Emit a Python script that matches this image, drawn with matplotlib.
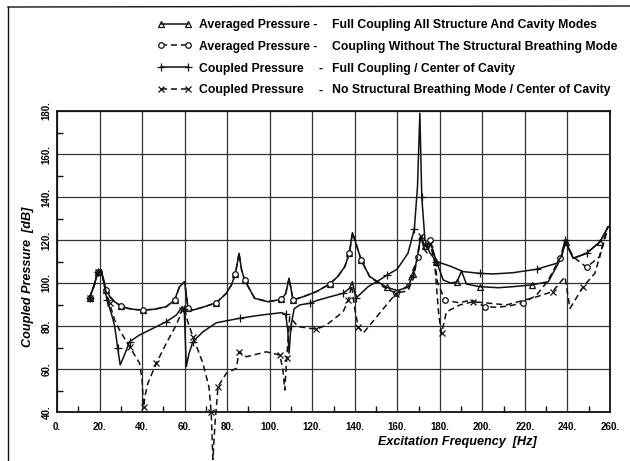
import matplotlib
matplotlib.use("Agg")
import matplotlib.pyplot as plt
from matplotlib.ticker import MultipleLocator, FuncFormatter
from matplotlib.lines import Line2D

plt.rcParams['font.family'] = ['Liberation Sans', 'DejaVu Sans']

# ---------------- data ----------------
freqA = [15.3, 16.1, 17.5, 19.2, 20.8, 22, 23.2, 25, 27.1, 30, 33.3, 36.5, 40.4, 45.9, 51.4,
         55.3, 57.6, 60.0, 61.6, 63.9, 69.4, 74.9, 79.6, 82, 83.8, 85.6, 86.8, 88.2, 92.9, 99.2,
         105.5, 107.5, 109.1, 111, 115.7, 122, 128.2, 132, 135.3, 137.5, 138.9, 140.8, 143, 147, 151,
         155, 160, 165, 167.5, 169.5, 171, 173, 175, 176.5, 178.4, 181.6, 185, 188, 190.2, 192.5,
         198.8, 207.4, 214.5, 223.1, 231, 236.5, 239.3, 242.7, 249, 255.3, 259.2]
valsA = [92.9, 95.2, 99, 105.3, 106, 101, 96.7, 93.5, 91.3, 89.3, 88.2, 87.7, 87.4, 87.8, 89,
         92.1, 98.3, 100.6, 88.2, 87.4, 89, 90.8, 95.2, 99.1, 104, 113.8, 106, 101.4, 92.9, 91.3,
         92.4, 95, 102.2, 92.1, 93.6, 96, 99.5, 103, 107.6, 114, 123.4, 117.7, 110.7, 103, 100.5,
         98, 96.5, 98, 104, 112, 122, 117, 119, 116, 110, 101.4, 100, 100.5, 105.5, 99.5,
         98.3, 97.8, 98.3, 99.1, 100.6, 110.7, 119.2, 111.5, 113.8, 119.2, 126.2]

freqB = [15.3, 16.1, 17.5, 19.2, 20.8, 22, 23.2, 25, 27.1, 30, 33.3, 36.5, 40.4, 45.9, 51.4,
         55.3, 57.6, 60.0, 61.6, 63.9, 69.4, 74.9, 79.6, 82, 83.8, 85.6, 86.8, 88.2, 92.9, 99.2,
         105.5, 107.5, 109.1, 111, 115.7, 122, 128.2, 132, 135.3, 137.5, 138.9, 140.8,
         143, 147, 153.3, 159.3, 165, 167.5, 169.5, 171, 173, 175.5, 177, 179, 182.4, 189.1,
         194.9, 201.2, 207.1, 212.9, 219.2, 225.2, 230.5, 236.5, 238.8, 242.7, 249, 255, 258.9]
valsB = [92.9, 95.2, 99, 105.3, 106, 101, 96.7, 93.5, 91.3, 89.3, 88.2, 87.7, 87.4, 87.8, 89,
         92.1, 98.3, 100.6, 88.2, 87.4, 89, 90.8, 95.2, 99.1, 104, 113.8, 106, 101.4, 92.9, 91.3,
         92.4, 95, 102.2, 92.1, 93.6, 96, 99.5, 103, 107.6, 114, 123.4, 117.7,
         110.7, 103, 98.3, 95.2, 96.4, 102, 112, 121, 115, 120, 114, 100, 92, 90.8,
         92.1, 89, 88.7, 89.4, 90.8, 94.1, 100.6, 111.5, 119.2, 112.2, 107.3, 112.2, 126.2]

freqC = [15.3, 16.1, 17.5, 19.2, 20.8, 22, 23.5, 25.5, 27.1, 28.5, 29.7, 31.5, 34.1, 38.8, 45.1,
         51.4, 56.1, 58.9, 59.8, 60.8, 62, 63.9, 68.6, 74.9, 85.9, 95.3, 105.5, 107.5, 108.5, 109.1,
         110, 111.5, 114.1, 118.8, 122, 128, 134.5, 137.5, 138.9, 140.5, 146.3, 151, 155.2, 159.9, 165,
         168, 169.5, 170.6, 171.5, 173, 175.3, 178.4, 184.7, 191, 198.8, 205, 214.5, 225.5, 235, 237.5,
         238.8, 240.5, 242.7, 249, 255.3, 259.2]
valsC = [92.9, 95.2, 99, 105.3, 106, 100, 92, 86, 80, 70, 61.9, 66, 72.7, 75.8, 78.9,
         82, 85.1, 89, 88, 61.1, 67, 72.7, 77.3, 81.5, 83.6, 85, 86.2, 85.5, 78, 67.3,
         80, 88, 89.8, 90.6, 91.8, 93.5, 95.2, 97.5, 100.6, 92.9, 98.3, 101, 103.7, 106.4, 113.8,
         125, 145, 179, 140, 120, 114, 110, 107.9, 105.3, 104.5, 104.2, 104.8, 106.4, 109.2, 113,
         120, 116, 111.5, 113.8, 119.2, 126.2]

freqD = [15.3, 16.1, 17.5, 19.2, 20.8, 22.5, 24.7, 27.1, 29.4, 34.1, 38.8, 40.0, 40.7, 41.5, 42.7,
         46.7, 51.4, 56.1, 58.9, 59.7, 61.5, 63.9, 68.6, 71.4, 72.5, 73.3, 74.3, 75.7, 79.6, 84.3,
         85.6, 89, 98.4, 104.7, 106.2, 107.1, 108, 109.4, 113.3, 122, 126.7, 134.5, 137, 138.5, 140,
         141.6, 143.9, 154.9, 159.3, 164.3, 169, 171, 172.5, 174, 175.5, 177.5, 179.5, 180.8, 183.1, 189.4,
         195.7, 211.4, 225.5, 233, 238.8, 241.2, 247.4, 252.9, 258.9]
valsD = [92.9, 95.2, 99, 105.3, 106, 98, 90.6, 82.8, 78.1, 70.4, 62.7, 55, 42.5, 48, 53.3,
         62.7, 72, 80.5, 87.4, 89, 82, 75, 62.7, 51.8, 40, 18, 35, 51.8, 58, 60.3,
         68, 65.7, 68, 66.5, 60, 50.2, 65, 84.3, 79.7, 78.5, 80.5, 86.6, 92, 99, 88,
         79.7, 76.6, 89.8, 95, 98.3, 110, 122, 116, 114, 118, 110, 85, 76.6, 86.6, 89.8,
         91.3, 89.8, 93.6, 96, 102.9, 88.2, 98.3, 104.5, 125]

legend_left = ["Averaged Pressure -", "Averaged Pressure -", "Coupled Pressure", "Coupled Pressure"]
legend_dash = ["", "", "-", "-"]
legend_right = ["Full Coupling All Structure And Cavity Modes",
                "Coupling Without The Structural Breathing Mode",
                "Full Coupling / Center of Cavity",
                "No Structural Breathing Mode / Center of Cavity"]

xticks = list(range(0, 261, 20))
yticks = list(range(40, 181, 20))
xlabel = "Excitation Frequency  [Hz]"
ylabel = "Coupled Pressure  [dB]"

# ---------------- figure ----------------
W, H = 630, 461
fig = plt.figure(figsize=(W / 100, H / 100), dpi=100)
ax = fig.add_axes([57 / W, 1 - 412 / H, (610 - 57) / W, (412 - 111) / H])

ink = '#111111'
styles = [
    dict(x=freqA, y=valsA, ls='-', marker='^', ms=4, mfc='none', every=3),
    dict(x=freqB, y=valsB, ls=(0, (4, 2.5)), marker='o', ms=4, mfc='white', every=3),
    dict(x=freqC, y=valsC, ls='-', marker='+', ms=6, mfc='none', every=3),
    dict(x=freqD, y=valsD, ls=(0, (4, 2.5)), marker='x', ms=4.5, mfc='none', every=3),
]
handles = []
for s in styles:
    ln, = ax.plot(s['x'], s['y'], ls=s['ls'], color=ink, lw=1.1, marker=s['marker'],
                  ms=s['ms'], mfc=s['mfc'], mec=ink, mew=0.9, markevery=s['every'],
                  clip_on=False, zorder=3)
    handles.append(ln)

ax.set_xlim(0, 260)
ax.set_ylim(40, 180)
ax.set_xticks(xticks)
ax.set_yticks(yticks)
ax.xaxis.set_minor_locator(MultipleLocator(10))
ax.yaxis.set_minor_locator(MultipleLocator(10))
fmt = FuncFormatter(lambda v, _: f"{v:.0f}.")
ax.xaxis.set_major_formatter(fmt)
ax.yaxis.set_major_formatter(fmt)
ax.tick_params(axis='x', which='major', direction='in', length=0, pad=7, labelsize=7)
ax.tick_params(axis='y', which='major', direction='in', length=0, pad=4, labelsize=7)
ax.tick_params(which='minor', direction='in', length=4, width=1.0, color=ink)
for lab in ax.get_xticklabels():
    lab.set_fontweight('bold')
for lab in ax.get_yticklabels():
    lab.set_fontweight('bold')
    lab.set_rotation(90)
    lab.set_va('center')
ax.grid(True, which='major', color='#333333', lw=0.9)
ax.set_axisbelow(True)
for sp in ax.spines.values():
    sp.set_linewidth(1.3)
    sp.set_color(ink)

fig.text(457 / W, 1 - 442 / H, xlabel, ha='center', va='center', fontsize=9.1,
         style='italic', fontweight='bold')
fig.text(28 / W, 1 - 277 / H, ylabel, ha='center', va='center', fontsize=9.1,
         style='italic', fontweight='bold', rotation=90)

# legend
fs = 8.8
leg = fig.legend(handles, legend_left, loc='upper left',
                 bbox_to_anchor=(157 / W, 1 - 19.0 / H), bbox_transform=fig.transFigure,
                 frameon=False, borderpad=0, borderaxespad=0, numpoints=2,
                 handlelength=2.85, handletextpad=0.62, labelspacing=0.80,
                 prop=dict(size=fs, weight='bold'))
fig.canvas.draw()
inv = fig.transFigure.inverted()
for t, d, r in zip(leg.get_texts(), legend_dash, legend_right):
    bb = t.get_window_extent()
    yc = inv.transform(((bb.x0 + bb.x1) / 2, (bb.y0 + bb.y1) / 2))[1]
    if d:
        fig.text(321 / W, yc, d, ha='center', va='center', fontsize=fs, fontweight='bold')
    fig.text(332 / W, yc, r, ha='left', va='center', fontsize=fs, fontweight='bold')

# page frame lines of the scanned figure
fig.add_artist(Line2D([8 / W, 8 / W], [0, 1 - 7 / H], color=ink, lw=1.0, transform=fig.transFigure))
fig.add_artist(Line2D([8 / W, 1], [1 - 7 / H, 1 - 6 / H], color=ink, lw=1.0, transform=fig.transFigure))

fig.savefig('out.png', dpi=100)
